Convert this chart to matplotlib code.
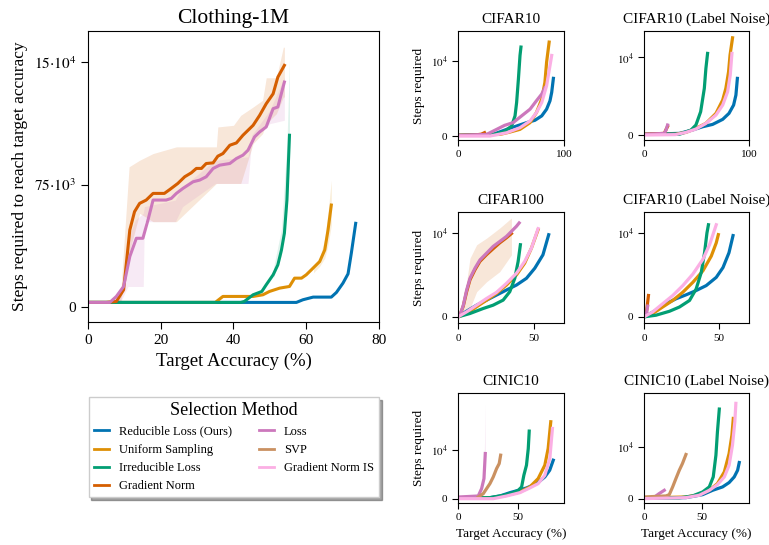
import matplotlib
matplotlib.use("Agg")
import matplotlib.pyplot as plt
from matplotlib.lines import Line2D

plt.rcParams['font.family'] = ['Liberation Serif', 'DejaVu Serif']
plt.rcParams['mathtext.fontset'] = 'stix'

# colours of the selection methods (seaborn colorblind)
methods = ["Reducible Loss (Ours)", "Uniform Sampling", "Irreducible Loss", "Gradient Norm",
           "Loss", "SVP", "Gradient Norm IS"]
colors = ["#0173b2", "#de8f05", "#029e73", "#d55e00", "#cc78bc", "#ca9161", "#fbafe4"]

# ---------------- Clothing-1M ----------------
cl_rl_acc = [0, 57.3, 59.1, 61.9, 66.9, 68.3, 70.1, 71.5, 72.4, 73.6]
cl_rl_steps = [2850, 2850, 4480, 6100, 6100, 8950, 14650, 20350, 32970, 51280]

cl_us_acc = [0, 35, 37.1, 45.4, 48.1, 49.9, 52.7, 55.4, 56.8, 58.7, 60, 61.4, 63.7, 65.1, 66, 66.9]
cl_us_steps = [2850, 2850, 6510, 6510, 7530, 9560, 11600, 12620, 17710, 17710, 19740, 22790,
               27880, 35000, 47210, 62470]

cl_il_acc = [0, 42, 43, 45.4, 47.8, 49, 50.9, 52.2, 53.2, 54, 54.7, 55.4]
cl_il_steps = [2850, 2850, 3460, 7530, 9560, 13630, 19740, 25840, 35000, 45180, 65530, 105210]

cl_gn_acc = [0, 5, 7.8, 9.8, 11.5, 12.8, 14.2, 16, 17.9, 21, 22.5, 24.7, 26.6, 28.4, 29.8, 31.2,
             32.5, 34.4, 35.7, 37.1, 39, 40.8, 42.6, 45.4, 47.2, 49, 50.9, 52.2, 54]
cl_gn_steps = [2850, 2850, 3460, 10580, 47200, 58400, 63500, 65500, 69600, 69600, 72000, 75700,
               79800, 82200, 84900, 84900, 87900, 88300, 92400, 94000, 99100, 100500, 105200,
               111300, 117400, 124500, 130600, 140800, 148000]

cl_loss_acc = [0, 6, 7.8, 9.8, 11.5, 13.3, 15.1, 16.5, 17.9, 21.5, 22.9, 24.3, 26.1, 28.9, 30.7,
               32.5, 34.4, 36.2, 39, 40.8, 42.6, 44, 45.8, 47.2, 49, 50.9, 52.2, 54]
cl_loss_steps = [2850, 2850, 6510, 12620, 30930, 42120, 42120, 53320, 65530, 65530, 66540, 69600,
                 72650, 76720, 77740, 79770, 84860, 86890, 87910, 90960, 93000, 96050, 104190,
                 107240, 110300, 121490, 122510, 137770]

# shaded bands
cl_gn_band_acc = [7, 9, 11.3, 14.2, 17.9, 24.3, 35.3, 35.7, 40, 42, 45.4, 48, 49, 51.8, 53.7, 54]
cl_gn_band_hi = [3460, 8550, 85900, 89900, 94000, 98100, 98100, 110300, 111300, 117400, 122500,
                 126600, 140400, 140400, 159100, 159100]
cl_gn_band_lo = [2850, 3460, 33000, 57400, 52300, 52300, 75700, 75700, 75700, 75700, 100100,
                 106200, 112300, 118400, 128600, 128600]

cl_loss_band_acc = [7, 9, 11, 13, 15.2, 15.5, 24, 26, 35, 44, 45, 50, 54]
cl_loss_band_hi = [3460, 8550, 41100, 53300, 57400, 61500, 65500, 73700, 89900, 92000, 105200,
                   120500, 140800]
cl_loss_band_lo = [2850, 3460, 12600, 12600, 12600, 52300, 52300, 61500, 75700, 75700, 102200,
                   112300, 114400]

cl_il_band_acc = [51, 53.2, 54.7, 55.4]
cl_il_band_hi = [24000, 48000, 100000, 152000]
cl_il_band_lo = [18000, 32000, 60000, 90000]

cl_us_band_acc = [62, 63.7, 65.1, 66, 66.9]
cl_us_band_hi = [24000, 30000, 42000, 58000, 77700]
cl_us_band_lo = [21000, 25000, 30000, 38000, 50000]

# ---------------- CIFAR10 ----------------
c10_rl_acc = [0, 33, 46, 55.3, 64.8, 72.6, 79, 83.6, 86.8, 88.4, 90]
c10_rl_steps = [90, 220, 890, 1330, 1780, 2090, 2670, 3560, 4670, 5780, 7640]
c10_us_acc = [0, 24, 39.6, 49, 58.5, 68, 74, 79, 82, 83.6, 86]
c10_us_steps = [90, 180, 220, 530, 890, 1780, 3110, 4890, 7110, 9780, 12440]
c10_il_acc = [0, 33, 43, 50.6, 53.8, 55.3, 57, 58.5, 59.4]
c10_il_steps = [90, 220, 530, 1330, 2670, 4440, 7560, 10670, 11780]
c10_gn_acc = [0, 15, 22, 25]
c10_gn_steps = [90, 120, 250, 450]
c10_loss_acc = [0, 27, 36.5, 44, 52, 60, 68, 74, 79, 82]
c10_loss_steps = [90, 220, 890, 1420, 1780, 2670, 3560, 4670, 5560, 6400]
c10_gnis_acc = [0, 30, 46, 58.5, 68, 74, 79, 83.6, 86.8, 88.4]
c10_gnis_steps = [0, 0, 440, 1110, 2000, 3110, 4440, 6670, 9330, 10670]

# ---------------- CIFAR10 (Label Noise), accuracy up to 100 ----------------
c10n_rl_acc = [0, 33.7, 46, 56, 65.4, 75, 81, 85.4, 87.6, 89]
c10n_rl_steps = [90, 210, 640, 1070, 1370, 2020, 2790, 3860, 5150, 7300]
c10n_us_acc = [0, 30, 40, 49.5, 59, 68.6, 75, 78, 80.6, 82, 84.4]
c10n_us_steps = [90, 100, 340, 860, 1500, 2790, 4510, 6010, 8150, 10300, 12530]
c10n_il_acc = [0, 33.7, 44.8, 49.5, 54, 57.5, 59, 60.6]
c10n_il_steps = [90, 90, 640, 1290, 3000, 6010, 8580, 10520]
c10n_gn_acc = [0, 19.4, 21, 22.5]
c10n_gn_steps = [90, 210, 700, 1100]
c10n_loss_acc = [0, 19.4, 21, 22.5]
c10n_loss_steps = [90, 210, 640, 1290]
c10n_gnis_acc = [0, 30, 40, 49.5, 59, 68.6, 75, 79.7, 82.2, 83.8]
c10n_gnis_steps = [0, 50, 340, 770, 1500, 2580, 3860, 5580, 7730, 10520]

# ---------------- CIFAR100 ----------------
c100_rl_acc = [0, 5.7, 12.3, 18.9, 25.4, 32, 38.6, 45.2, 50.7, 56.1, 59.9]
c100_rl_steps = [0, 680, 1390, 1990, 2590, 3190, 3780, 4580, 5780, 7370, 9760]
c100_us_acc = [0, 5.7, 12.3, 18.9, 25.4, 32, 38.6, 44, 48.5, 52.9]
c100_us_steps = [0, 400, 1200, 1990, 2790, 3780, 4980, 6370, 8170, 10360]
c100_il_acc = [0, 7.9, 16.7, 23.2, 29.8, 34.2, 37.5, 39.7, 41.2]
c100_il_steps = [0, 400, 1000, 1390, 1990, 2990, 4580, 6570, 8570]
c100_gn_acc = [0, 1.3, 3.5, 5.7, 7.9, 11.2, 14.5, 18.9, 23.2, 27.6, 32, 35.3]
c100_gn_steps = [0, 200, 1300, 3000, 4400, 5600, 6600, 7400, 8100, 8800, 9400, 9900]
c100_loss_acc = [0, 1.3, 3.5, 5.7, 7.9, 11.2, 14.5, 18.9, 23.2, 27.6, 32, 36.4, 38.6, 40.4]
c100_loss_steps = [0, 200, 1390, 3190, 4580, 5780, 6770, 7570, 8370, 8960, 9560, 10360, 10760, 11160]
c100_gnis_acc = [0, 5.7, 12.3, 18.9, 25.4, 32, 38.6, 44, 48.5, 52.9]
c100_gnis_steps = [0, 600, 1390, 2190, 2910, 3980, 5180, 6570, 8170, 10480]
c100_gn_band_acc = [3.5, 7.9, 12.3, 18.9, 27.6, 35.3]
c100_gn_band_hi = [1390, 6970, 8570, 9360, 10560, 11750]
c100_gn_band_lo = [200, 1000, 2990, 4180, 5380, 7370]

# ---------------- CIFAR10 (Label Noise), accuracy up to 70 ----------------
c10n2_rl_acc = [0, 8, 14.7, 21.4, 28.1, 34.8, 41.5, 48.2, 52.7, 56.7, 59.4]
c10n2_rl_steps = [0, 780, 1570, 2160, 2630, 3140, 3730, 4710, 5880, 7650, 9690]
c10n2_us_acc = [0, 5.8, 12.5, 19.2, 25.9, 32.6, 39.3, 44.9, 48.2, 49.6]
c10n2_us_steps = [0, 390, 1180, 1960, 2940, 4120, 5490, 7250, 8820, 9800]
c10n2_il_acc = [0, 8, 17, 23.7, 30.4, 34.8, 38.2, 40.4, 42, 43]
c10n2_il_steps = [0, 200, 670, 1180, 1960, 3330, 5290, 7650, 10000, 10980]
c10n2_gn_acc = [0, 1.5, 2.5, 3]
c10n2_gn_steps = [0, 300, 1800, 2550]
c10n2_loss_acc = [0, 1.5, 2.5]
c10n2_loss_steps = [0, 300, 1290]
c10n2_gnis_acc = [0, 5.8, 12.5, 19.2, 25.9, 32.6, 39.3, 43.8, 47.1, 48.2]
c10n2_gnis_steps = [0, 590, 1570, 2550, 3730, 5100, 6860, 8630, 10390, 10980]

# ---------------- CINIC10 ----------------
cin_rl_acc = [0, 26.8, 35.2, 43.6, 50.6, 57.5, 66, 72.9, 77, 80]
cin_rl_steps = [140, 210, 550, 1240, 1720, 2210, 3100, 4480, 5860, 7930]
cin_us_acc = [0, 29.6, 40.8, 52, 60.3, 67.3, 72.9, 75.7, 77.9]
cin_us_steps = [210, 210, 690, 1380, 2410, 4140, 6900, 10340, 15860]
cin_il_acc = [0, 26.8, 38, 46.4, 50.6, 53.4, 55.3, 57.5, 59, 59.8]
cin_il_steps = [140, 210, 690, 1240, 1720, 2410, 4830, 6900, 10340, 13930]
cin_loss_acc = [0, 17, 19.8, 21.8, 22.9]
cin_loss_steps = [340, 550, 2070, 4140, 9310]
cin_svp_acc = [17, 21.2, 24, 26.8, 29.6, 32.4, 34.6, 35.8]
cin_svp_steps = [340, 1030, 2070, 3100, 4480, 6210, 7240, 8970]
cin_gnis_acc = [0, 29.6, 40.8, 52, 60.3, 67.3, 72.9, 77.1, 79.3]
cin_gnis_steps = [0, 0, 550, 1240, 2210, 3100, 4830, 8280, 14480]
cin_loss_band_acc = [21.5, 22.3, 22.9]
cin_loss_band_hi = [4500, 12000, 19650]
cin_loss_band_lo = [3500, 4500, 7000]
cin_il_band_acc = [58.5, 59.3, 59.8]
cin_il_band_hi = [9000, 12500, 15900]
cin_il_band_lo = [7500, 9500, 12000]

# ---------------- CINIC10 (Label Noise) ----------------
cinn_rl_acc = [0, 36, 50.3, 58.9, 67.4, 73, 77.4, 80.3, 81.7]
cinn_rl_steps = [140, 190, 770, 1610, 2260, 3100, 4190, 5480, 6970]
cinn_us_acc = [0, 36, 47.4, 56, 63, 68.9, 73, 75.4, 76.6]
cinn_us_steps = [140, 320, 770, 1610, 2900, 5160, 8710, 12260, 15480]
cinn_il_acc = [0, 30.3, 41.7, 50.3, 56, 59.4, 61.7, 63, 64.6]
cinn_il_steps = [140, 140, 520, 1290, 2260, 4190, 8390, 12900, 17290]
cinn_loss_acc = [10.3, 13, 17.4]
cinn_loss_steps = [520, 970, 1610]
cinn_svp_acc = [0, 18.9, 21.7, 24.6, 27.4, 30.3, 33, 36]
cinn_svp_steps = [320, 520, 770, 2260, 3870, 5480, 6770, 8520]
cinn_gnis_acc = [0, 36, 47.4, 56, 63, 68.9, 73, 75.9, 77.9, 78.8]
cinn_gnis_steps = [0, 190, 650, 1610, 2710, 4190, 6450, 10320, 14840, 18390]


fig = plt.figure(figsize=(7.69, 5.45), dpi=100)

# main Clothing-1M panel
ax = fig.add_axes([0.1144, 0.409, 0.3784, 0.534])
ax.fill_between(cl_gn_band_acc, cl_gn_band_lo, cl_gn_band_hi, color=colors[3], alpha=0.15, lw=0)
ax.fill_between(cl_loss_band_acc, cl_loss_band_lo, cl_loss_band_hi, color=colors[4], alpha=0.15, lw=0)
ax.fill_between(cl_il_band_acc, cl_il_band_lo, cl_il_band_hi, color=colors[2], alpha=0.12, lw=0)
ax.fill_between(cl_us_band_acc, cl_us_band_lo, cl_us_band_hi, color=colors[1], alpha=0.15, lw=0)
ax.plot(cl_rl_acc, cl_rl_steps, color=colors[0], lw=2.2)
ax.plot(cl_us_acc, cl_us_steps, color=colors[1], lw=2.2)
ax.plot(cl_il_acc, cl_il_steps, color=colors[2], lw=2.2)
ax.plot(cl_gn_acc, cl_gn_steps, color=colors[3], lw=2.2)
ax.plot(cl_loss_acc, cl_loss_steps, color=colors[4], lw=2.2)
ax.set_xlim(0, 80)
ax.set_ylim(-9200, 169000)
ax.set_xticks([0, 20, 40, 60, 80])
ax.set_yticks([0, 75000, 150000])
ax.set_yticklabels(["0", r"$75{\cdot}10^3$", r"$15{\cdot}10^4$"])
ax.tick_params(labelsize=11, length=5)
ax.set_title("Clothing-1M", fontsize=15.5)
ax.set_xlabel("Target Accuracy (%)", fontsize=13.5)
ax.set_ylabel("Steps required to reach target accuracy", fontsize=12.5)


def small_panel(rect, title, series, bands, xlim, xticks, ylim, ylabel, xlabel):
    a = fig.add_axes(rect)
    for acc, lo, hi, c in bands:
        a.fill_between(acc, lo, hi, color=c, alpha=0.15, lw=0)
    for acc, steps, c in series:
        a.plot(acc, steps, color=c, lw=2.3)
    a.set_xlim(*xlim)
    a.set_ylim(*ylim)
    a.set_xticks(xticks)
    a.set_yticks([0, 10000])
    a.set_yticklabels(["0", r"$10^4$"])
    a.tick_params(labelsize=8, length=4)
    a.set_title(title, fontsize=11)
    if ylabel:
        a.set_ylabel("Steps required", fontsize=9.5)
    if xlabel:
        a.set_xlabel("Target Accuracy (%)", fontsize=9.5)
    return a


c1, c2 = 0.5956, 0.8374
w1, w2 = 0.1378, 0.1365

small_panel([c1, 0.743, w1, 0.2], "CIFAR10",
            [(c10_rl_acc, c10_rl_steps, colors[0]), (c10_us_acc, c10_us_steps, colors[1]),
             (c10_il_acc, c10_il_steps, colors[2]), (c10_gn_acc, c10_gn_steps, colors[3]),
             (c10_loss_acc, c10_loss_steps, colors[4]), (c10_gnis_acc, c10_gnis_steps, colors[6])],
            [], (0, 100), [0, 100], (-530, 13900), True, False)
small_panel([c2, 0.743, w2, 0.2], "CIFAR10 (Label Noise)",
            [(c10n_rl_acc, c10n_rl_steps, colors[0]), (c10n_us_acc, c10n_us_steps, colors[1]),
             (c10n_il_acc, c10n_il_steps, colors[2]), (c10n_gn_acc, c10n_gn_steps, colors[3]),
             (c10n_loss_acc, c10n_loss_steps, colors[4]), (c10n_gnis_acc, c10n_gnis_steps, colors[6])],
            [], (0, 100), [0, 100], (-650, 13400), False, False)
small_panel([c1, 0.407, w1, 0.204], "CIFAR100",
            [(c100_rl_acc, c100_rl_steps, colors[0]), (c100_us_acc, c100_us_steps, colors[1]),
             (c100_il_acc, c100_il_steps, colors[2]), (c100_gn_acc, c100_gn_steps, colors[3]),
             (c100_loss_acc, c100_loss_steps, colors[4]), (c100_gnis_acc, c100_gnis_steps, colors[6])],
            [(c100_gn_band_acc, c100_gn_band_lo, c100_gn_band_hi, colors[3])],
            (0, 70), [0, 50], (-750, 12460), True, False)
small_panel([c2, 0.407, w2, 0.204], "CIFAR10 (Label Noise)",
            [(c10n2_rl_acc, c10n2_rl_steps, colors[0]), (c10n2_us_acc, c10n2_us_steps, colors[1]),
             (c10n2_il_acc, c10n2_il_steps, colors[2]), (c10n2_gn_acc, c10n2_gn_steps, colors[3]),
             (c10n2_loss_acc, c10n2_loss_steps, colors[4]), (c10n2_gnis_acc, c10n2_gnis_steps, colors[6])],
            [], (0, 70), [0, 50], (-750, 12500), False, False)
small_panel([c1, 0.077, w1, 0.202], "CINIC10",
            [(cin_rl_acc, cin_rl_steps, colors[0]), (cin_us_acc, cin_us_steps, colors[1]),
             (cin_il_acc, cin_il_steps, colors[2]), (cin_loss_acc, cin_loss_steps, colors[4]),
             (cin_svp_acc, cin_svp_steps, colors[5]), (cin_gnis_acc, cin_gnis_steps, colors[6])],
            [(cin_loss_band_acc, cin_loss_band_lo, cin_loss_band_hi, colors[4]),
             (cin_il_band_acc, cin_il_band_lo, cin_il_band_hi, colors[2])],
            (0, 89), [0, 50], (-900, 21800), True, True)
small_panel([c2, 0.077, w2, 0.202], "CINIC10 (Label Noise)",
            [(cinn_rl_acc, cinn_rl_steps, colors[0]), (cinn_us_acc, cinn_us_steps, colors[1]),
             (cinn_il_acc, cinn_il_steps, colors[2]), (cinn_loss_acc, cinn_loss_steps, colors[4]),
             (cinn_svp_acc, cinn_svp_steps, colors[5]), (cinn_gnis_acc, cinn_gnis_steps, colors[6])],
            [], (0, 90), [0, 50], (-850, 20400), False, True)

# legend: two columns, first column has four entries
handles = [Line2D([], [], color=c, lw=2) for c in colors]
leg = fig.legend(handles, methods, loc="center", ncol=2,
                 bbox_to_anchor=(0.304, 0.179), fontsize=9, title="Selection Method",
                 title_fontsize=13, shadow=True, fancybox=False, frameon=True,
                 handlelength=1.2, columnspacing=2.2, labelspacing=0.5, edgecolor="#cccccc")

fig.savefig("out.png", dpi=100)
